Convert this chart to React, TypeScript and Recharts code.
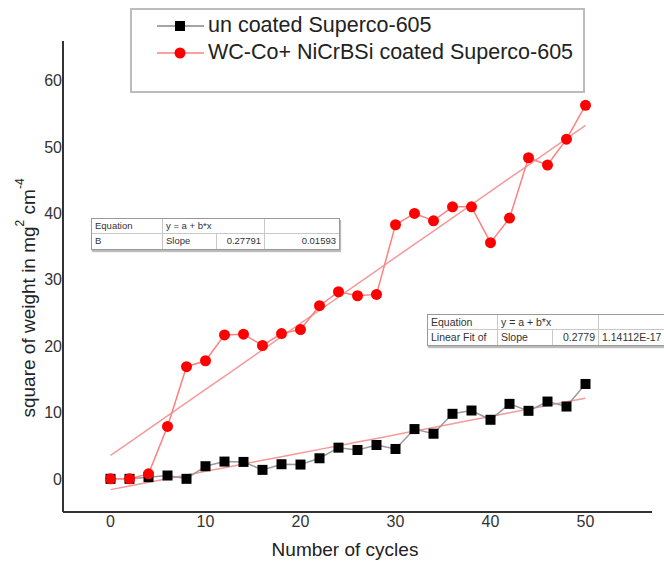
import React from 'react';
import { ComposedChart, Line, XAxis, YAxis } from 'recharts';

// cycles 0..50, step 2
const cycles = [0, 2, 4, 6, 8, 10, 12, 14, 16, 18, 20, 22, 24, 26, 28, 30, 32, 34, 36, 38, 40, 42, 44, 46, 48, 50];

const uncoated = [0, 0, 0.25, 0.5, 0, 1.9, 2.6, 2.55, 1.35, 2.2, 2.15, 3.1, 4.7, 4.35, 5.1, 4.5, 7.5, 6.8, 9.8, 10.3, 8.9, 11.3, 10.25, 11.65, 10.9, 14.3];

const coated = [0, 0, 0.75, 7.9, 16.9, 17.8, 21.7, 21.8, 20.1, 21.9, 22.5, 26.1, 28.2, 27.6, 27.8, 38.3, 40.0, 38.9, 41.0, 41.0, 35.6, 39.3, 48.4, 47.3, 51.2, 56.3];

const xTicks = [0, 10, 20, 30, 40, 50];
const yTicks = [0, 10, 20, 30, 40, 50, 60];

const FONT = '"Liberation Sans", Arial, sans-serif';

// plain least squares, like the Origin "Linear Fit"
const linFit = (xs: number[], ys: number[]) => {
  const n = xs.length;
  const mx = xs.reduce((s, v) => s + v, 0) / n;
  const my = ys.reduce((s, v) => s + v, 0) / n;
  let sxy = 0;
  let sxx = 0;
  xs.forEach((x, i) => {
    sxy += (x - mx) * (ys[i] - my);
    sxx += (x - mx) * (x - mx);
  });
  const b = sxy / sxx;
  return { a: my - b * mx, b };
};

const fitU = linFit(cycles, uncoated);
const fitC = linFit(cycles, coated);

const rows = cycles.map((x, i) => ({
  x,
  uncoated: uncoated[i],
  coated: coated[i],
  fitU: fitU.a + fitU.b * x,
  fitC: fitC.a + fitC.b * x,
}));

const SquareDot = (p: any) => (
  <rect key={`sq-${p.index}`} x={p.cx - 5} y={p.cy - 5} width={10} height={10} fill="#000" />
);
const RedDot = (p: any) => <circle key={`rc-${p.index}`} cx={p.cx} cy={p.cy} r={5.5} fill="#ff0000" />;

const YLabel = () => (
  <text
    x={28}
    y={298}
    transform="rotate(-90, 28, 298)"
    textAnchor="middle"
    dominantBaseline="central"
    fontSize={19}
    fontFamily={FONT}
    fill="#222"
  >
    square of weight in mg
    <tspan dy={-8} fontSize={12}>2</tspan>
    <tspan dy={8}> cm</tspan>
    <tspan dy={-8} fontSize={12}>-4</tspan>
  </text>
);

const XLabel = () => (
  <text x={345} y={549} textAnchor="middle" dominantBaseline="central" fontSize={19} fontFamily={FONT} fill="#222">
    Number of cycles
  </text>
);

const cell: React.CSSProperties = {
  borderRight: '1px solid #c8c8c8',
  borderBottom: '1px solid #c8c8c8',
  padding: '0 3px',
  whiteSpace: 'nowrap',
  overflow: 'hidden',
};

const FitTable = ({
  left,
  top,
  rowH,
  fontSize,
  widths,
  first,
  slope,
  err,
  errAlign,
}: {
  left: number;
  top: number;
  rowH: number;
  fontSize: number;
  widths: number[];
  first: string;
  slope: string;
  err: string;
  errAlign: 'left' | 'right';
}) => (
  <div
    style={{
      position: 'absolute',
      left,
      top,
      border: '1px solid #999',
      boxShadow: '1px 2px 1px #bbb',
      background: '#fff',
      fontFamily: FONT,
      fontSize,
      color: '#333',
      lineHeight: `${rowH - 1}px`,
    }}
  >
    <div style={{ display: 'flex', height: rowH }}>
      <div style={{ ...cell, width: widths[0] }}>Equation</div>
      <div style={{ ...cell, width: widths[1] + widths[2] + 7 }}>y = a + b*x</div>
      <div style={{ ...cell, width: widths[3], borderRight: 'none' }}></div>
    </div>
    <div style={{ display: 'flex', height: rowH }}>
      <div style={{ ...cell, width: widths[0], borderBottom: 'none' }}>{first}</div>
      <div style={{ ...cell, width: widths[1], borderBottom: 'none' }}>Slope</div>
      <div style={{ ...cell, width: widths[2], borderBottom: 'none', textAlign: 'right' }}>{slope}</div>
      <div style={{ ...cell, width: widths[3], borderBottom: 'none', borderRight: 'none', textAlign: errAlign }}>{err}</div>
    </div>
  </div>
);

const LegendBox = () => (
  <div
    style={{
      position: 'absolute',
      left: 130,
      top: 8,
      width: 451,
      height: 81,
      border: '2px solid #bcbcbc',
      background: '#fff',
      fontFamily: FONT,
      fontSize: 21.5,
      color: '#222',
    }}
  >
    <svg width={60} height={60} style={{ position: 'absolute', left: 20, top: 0 }}>
      <line x1={5} y1={16} x2={52} y2={16} stroke="#888" strokeWidth={1.5} />
      <rect x={23} y={11} width={10} height={10} fill="#000" />
      <line x1={5} y1={43} x2={52} y2={43} stroke="#ff8080" strokeWidth={1.5} />
      <circle cx={28} cy={43} r={5.5} fill="#ff0000" />
    </svg>
    <div style={{ position: 'absolute', left: 76, top: 2, lineHeight: '27px' }}>
      un coated Superco-605
      <br />
      WC-Co+ NiCrBSi coated Superco-605
    </div>
  </div>
);

export default function App() {
  return (
    <div style={{ position: 'absolute', left: 0, top: 0, width: 664, height: 562, overflow: 'hidden', background: '#fff' }}>
      <ComposedChart width={664} height={562} data={rows} margin={{ top: 41, right: 12, bottom: 0, left: 0 }}>
        <XAxis
          dataKey="x"
          type="number"
          domain={[-5, 57]}
          ticks={xTicks}
          allowDataOverflow
          height={50}
          tickLine={false}
          tickSize={0}
          tickMargin={4}
          axisLine={{ stroke: '#333', strokeWidth: 2 }}
          tick={{ fontSize: 16, fill: '#333', fontFamily: FONT }}
          label={<XLabel />}
        />
        <YAxis
          type="number"
          domain={[-5, 66]}
          ticks={yTicks}
          allowDataOverflow
          width={63}
          tickLine={false}
          tickSize={0}
          tickMargin={1}
          axisLine={{ stroke: '#333', strokeWidth: 2 }}
          tick={{ fontSize: 16, fill: '#333', fontFamily: FONT }}
          label={<YLabel />}
        />
        <Line dataKey="fitU" stroke="#f49a9a" strokeWidth={1.5} dot={false} isAnimationActive={false} />
        <Line dataKey="fitC" stroke="#f49a9a" strokeWidth={1.5} dot={false} isAnimationActive={false} />
        <Line dataKey="uncoated" stroke="#999" strokeWidth={1.5} dot={SquareDot} activeDot={false} isAnimationActive={false} />
        <Line dataKey="coated" stroke="#ff8080" strokeWidth={1.5} dot={RedDot} activeDot={false} isAnimationActive={false} />
      </ComposedChart>
      <LegendBox />
      <FitTable left={91} top={218} rowH={15} fontSize={9.5} widths={[64, 47, 41, 68]} first="B" slope="0.27791" err="0.01593" errAlign="right" />
      <FitTable left={427} top={314} rowH={15} fontSize={10.5} widths={[63, 48, 39, 90]} first="Linear Fit of" slope="0.2779" err="1.14112E-17" errAlign="left" />
    </div>
  );
}
